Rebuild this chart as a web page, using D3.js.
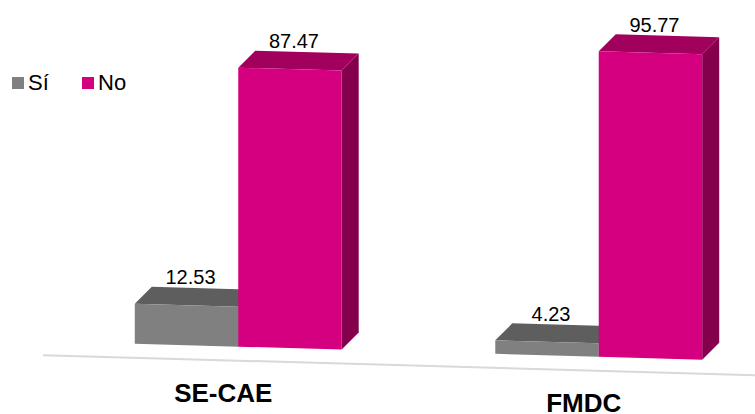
<!DOCTYPE html>
<html>
<head>
<meta charset="utf-8">
<script src="https://cdn.jsdelivr.net/npm/d3@7"></script>
<style>
  body { margin: 0; background: #fff; }
  svg { display: block; font-family: "Liberation Sans", Arial, sans-serif; }
</style>
</head>
<body>
<div id="chart"></div>
<script>
// data
const categories = ["SE-CAE", "FMDC"];
const seriesNames = ["Sí", "No"];
const valuesSi = [12.53, 4.23];
const valuesNo = [87.47, 95.77];

const width = 755, height = 414;
const colors = {
  "Sí": { front: "#808080", top: "#5e5e5e", side: "#6a6a6a" },
  "No": { front: "#d5007f", top: "#a2005d", side: "#85004c" }
};
const depthX = 17, depthY = -17;

// floor of the bars leans down to the right (perspective)
const floorY = x => 340 + 0.028 * x;

const svg = d3.select("#chart").append("svg")
  .attr("width", width)
  .attr("height", height);

const x0 = d3.scaleBand()
  .domain(categories)
  .range([58, 779])
  .paddingInner(0.426)
  .paddingOuter(0.213);

const x1 = d3.scaleBand()
  .domain(seriesNames)
  .range([0, x0.bandwidth()])
  .padding(0);

const h = d3.scaleLinear().domain([0, 100]).range([0, 319]);

// baseline
svg.append("line")
  .attr("x1", 43).attr("y1", floorY(43) + 14)
  .attr("x2", 755).attr("y2", floorY(755) + 14)
  .attr("stroke", "#d9d9d9")
  .attr("stroke-width", 2);

const rows = categories.map((c, i) => ({
  cat: c,
  bars: [
    { s: "Sí", v: valuesSi[i] },
    { s: "No", v: valuesNo[i] }
  ]
}));

const pts = p => p.map(d => d.join(",")).join(" ");

rows.forEach(r => {
  const g = svg.append("g");
  r.bars.forEach(b => {
    const xa = x0(r.cat) + x1(b.s);
    const xb = xa + x1.bandwidth();
    const ya = floorY(xa), yb = floorY(xb);
    const ta = ya - h(b.v), tb = yb - h(b.v);
    const col = colors[b.s];

    // right side
    g.append("polygon")
      .attr("points", pts([[xb, tb], [xb + depthX, tb + depthY], [xb + depthX, yb + depthY], [xb, yb]]))
      .attr("fill", col.side);
    // top
    g.append("polygon")
      .attr("points", pts([[xa, ta], [xa + depthX, ta + depthY], [xb + depthX, tb + depthY], [xb, tb]]))
      .attr("fill", col.top);
    // front
    g.append("polygon")
      .attr("points", pts([[xa, ta], [xb, tb], [xb, yb], [xa, ya]]))
      .attr("fill", col.front);

    // value label
    const cx = (xa + xb) / 2 + 4;
    g.append("text")
      .attr("x", cx)
      .attr("y", floorY(cx) - h(b.v) - 21)
      .attr("text-anchor", "middle")
      .attr("font-size", 20)
      .attr("fill", "#000")
      .text(b.v.toFixed(2));
  });

  // category label
  const lx = x0(r.cat) + x0.bandwidth() / 2 - 15;
  svg.append("text")
    .attr("x", lx)
    .attr("y", floorY(lx) + 56)
    .attr("text-anchor", "middle")
    .attr("font-size", 26)
    .attr("font-weight", "bold")
    .attr("fill", "#000")
    .text(r.cat);
});

// legend
const legend = svg.append("g");
const legendX = [12, 82];
seriesNames.forEach((s, i) => {
  const it = legend.append("g").attr("transform", `translate(${legendX[i]},77)`);
  it.append("rect")
    .attr("width", 12).attr("height", 12)
    .attr("fill", colors[s].front);
  it.append("text")
    .attr("x", 16).attr("y", 13)
    .attr("font-size", 22)
    .attr("fill", "#000")
    .text(s);
});
</script>
</body>
</html>
